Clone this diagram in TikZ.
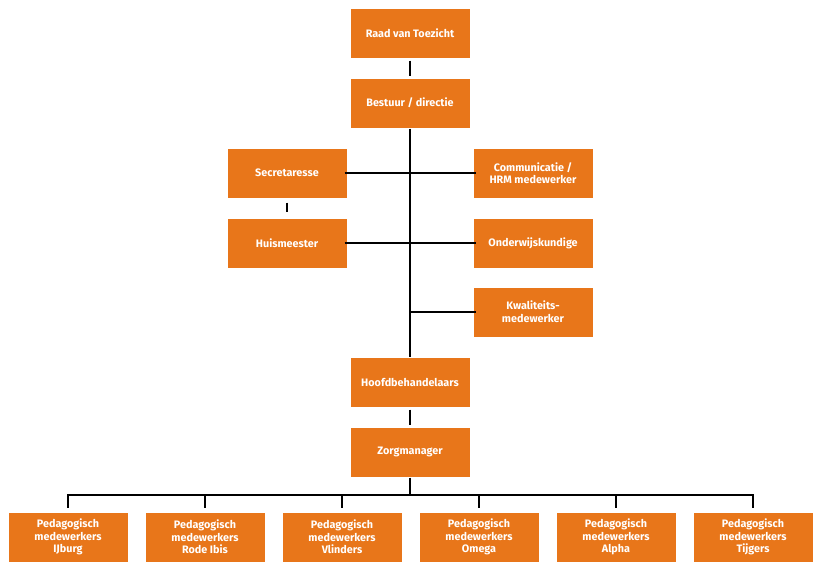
\documentclass[tikz,border=0pt]{standalone}
\usepackage{fontspec}
\setmainfont{Fira Sans}
\definecolor{boxorange}{HTML}{E8761A}
\begin{document}
\begin{tikzpicture}[x=1pt,y=-1pt,
  orgbox/.style={fill=boxorange,draw=white,line width=1pt,minimum width=120pt,minimum height=50pt,
    inner sep=0pt,align=center,text=white,font=\fontsize{10.8}{12.6}\selectfont\bfseries},
  link/.style={draw=black,line width=1.3pt}]
\useasboundingbox (0,0) rectangle (820,571);
\fill[white] (0,0) rectangle (820,571);
\node[orgbox] (raad) at (410,33) {Raad van Toezicht};
\node[orgbox] (best) at (410,103) {Bestuur / directie};
\node[orgbox] (secr) at (287,173) {Secretaresse};
\node[orgbox] (comm) at (533,173) {Communicatie /\\HRM medewerker};
\node[orgbox] (huis) at (287,243) {Huismeester};
\node[orgbox] (onde) at (533,243) {Onderwijskundige};
\node[orgbox] (kwal) at (533,312) {Kwaliteits-\\medewerker};
\node[orgbox] (hoof) at (410,382) {Hoofdbehandelaars};
\node[orgbox] (zorg) at (410,452) {Zorgmanager};
\node[orgbox] (p1) at (68,537) {Pedagogisch\\medewerkers\\I{}Jburg};
\node[orgbox] (p2) at (205,537) {Pedagogisch\\medewerkers\\Rode Ibis};
\node[orgbox] (p3) at (342,537) {Pedagogisch\\medewerkers\\Vlinders};
\node[orgbox] (p4) at (479,537) {Pedagogisch\\medewerkers\\Omega};
\node[orgbox] (p5) at (616,537) {Pedagogisch\\medewerkers\\Alpha};
\node[orgbox] (p6) at (753,537) {Pedagogisch\\medewerkers\\Tijgers};
\coordinate (bus) at (410,495);
% connectors
\draw[link] ([yshift=-2pt]raad.south) -- ([yshift=2pt]best.north);
\draw[link] (best.south) -- (hoof.north);
\draw[link] ([xshift=-3pt]secr.east) -- ([xshift=3pt]comm.west);
\draw[link] ([xshift=-3pt]huis.east) -- ([xshift=3pt]onde.west);
\draw[link] (best.south |- kwal.west) -- ([xshift=3pt]kwal.west);
\draw[link] ([yshift=-4pt]secr.south) -- ([yshift=6pt]huis.north);
\draw[link] ([yshift=-2pt]hoof.south) -- ([yshift=2pt]zorg.north);
\draw[link] (zorg.south) -- (bus);
\draw[link] ([yshift=4pt]p1.north) |- (bus) -| ([yshift=4pt]p6.north);
\foreach \p in {p2,p3,p4,p5} {
  \draw[link] ([yshift=4pt]\p.north) -- (\p.north |- bus);
}
\end{tikzpicture}
\end{document}
